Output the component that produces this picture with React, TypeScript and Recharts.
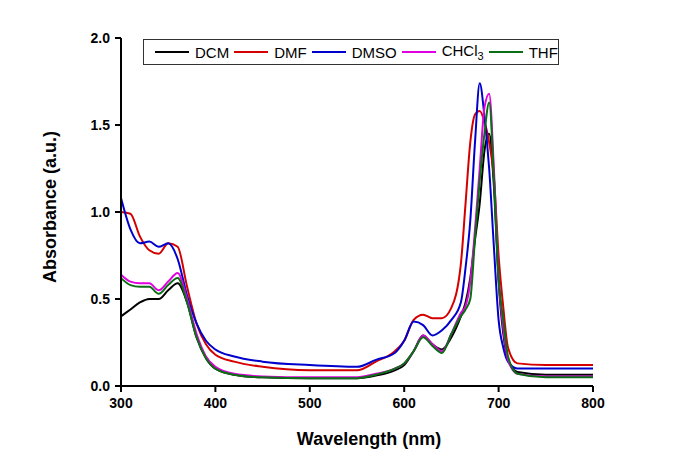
import { LineChart, Line, XAxis, YAxis, Legend } from 'recharts';

const wavelength = [
  300, 310, 320, 330, 340, 350, 360, 370, 380, 390, 400, 420, 450, 500, 550, 570, 590, 600, 610, 620,
  630, 640, 650, 660, 665, 670, 675, 680, 685, 690, 695, 700, 705, 710, 720, 750, 800,
];

const dcm = [
  0.4, 0.44, 0.48, 0.5, 0.5, 0.55, 0.59, 0.48, 0.28, 0.16, 0.1, 0.065, 0.05, 0.045, 0.045, 0.06, 0.09, 0.12, 0.2, 0.29,
  0.24, 0.21, 0.28, 0.4, 0.48, 0.62, 0.84, 1.05, 1.35, 1.45, 1.15, 0.6, 0.3, 0.15, 0.08, 0.065, 0.065,
];

const dmf = [
  1.0, 0.99, 0.86, 0.78, 0.76, 0.82, 0.8, 0.57, 0.36, 0.24, 0.18, 0.14, 0.11, 0.09, 0.09, 0.14, 0.2, 0.26, 0.38, 0.41,
  0.39, 0.39, 0.45, 0.7, 1.05, 1.4, 1.56, 1.58, 1.52, 1.4, 1.2, 0.75, 0.45, 0.22, 0.13, 0.12, 0.12,
];

const dmso = [
  1.08, 0.9, 0.82, 0.83, 0.8, 0.82, 0.73, 0.52, 0.36, 0.26, 0.21, 0.17, 0.14, 0.12, 0.11, 0.15, 0.19, 0.26, 0.37, 0.35,
  0.29, 0.32, 0.38, 0.48, 0.68, 0.95, 1.4, 1.74, 1.55, 1.25, 0.8, 0.38, 0.22, 0.14, 0.1, 0.1, 0.1,
];

const chcl3 = [
  0.64, 0.6, 0.59, 0.59, 0.55, 0.6, 0.65, 0.5, 0.3, 0.17, 0.11, 0.07, 0.055, 0.05, 0.05, 0.07, 0.1, 0.13, 0.2, 0.29,
  0.24, 0.2, 0.3, 0.42, 0.46, 0.6, 0.9, 1.25, 1.6, 1.68, 1.25, 0.62, 0.33, 0.15, 0.07, 0.055, 0.055,
];

const thf = [
  0.62, 0.58, 0.57, 0.57, 0.53, 0.58, 0.62, 0.48, 0.28, 0.16, 0.1, 0.065, 0.05, 0.045, 0.045, 0.065, 0.1, 0.13, 0.2, 0.28,
  0.23, 0.19, 0.3, 0.4, 0.44, 0.5, 0.85, 1.18, 1.45, 1.63, 1.2, 0.62, 0.38, 0.17, 0.07, 0.05, 0.05,
];

const xTicks = [300, 400, 500, 600, 700, 800];
const yTicks = [0, 0.5, 1.0, 1.5, 2.0];

const data = wavelength.map((w, i) => ({
  w,
  DCM: dcm[i],
  DMF: dmf[i],
  DMSO: dmso[i],
  CHCl3: chcl3[i],
  THF: thf[i],
}));

const SERIES = [
  { key: 'DCM', color: '#000000' },
  { key: 'DMF', color: '#d40000' },
  { key: 'DMSO', color: '#0000cc' },
  { key: 'CHCl3', color: '#e000e0' },
  { key: 'THF', color: '#0a6e14' },
];

const FONT = '"Liberation Sans", Arial, sans-serif';

function LegendBox() {
  return (
    <div
      style={{
        display: 'flex',
        alignItems: 'center',
        height: 26,
        border: '1px solid #333',
        paddingLeft: 11,
        fontFamily: FONT,
        fontSize: 15,
        color: '#000',
        boxSizing: 'border-box',
      }}
    >
      {SERIES.map((s) => (
        <div key={s.key} style={{ display: 'flex', alignItems: 'center', marginRight: 5 }}>
          <svg width={34} height={4} style={{ marginRight: 6 }}>
            <line x1={0} y1={2} x2={34} y2={2} stroke={s.color} strokeWidth={2} />
          </svg>
          {s.key === 'CHCl3' ? (
            <span>
              CHCl<sub style={{ fontSize: 11, verticalAlign: -4 }}>3</sub>
            </span>
          ) : (
            <span>{s.key}</span>
          )}
        </div>
      ))}
    </div>
  );
}

export default function App() {
  return (
    <div style={{ position: 'absolute', left: 0, top: 0, background: '#fff' }}>
      <LineChart
        width={685}
        height={467}
        data={data}
        margin={{ top: 38, right: 92, bottom: 0, left: 0 }}
      >
        <XAxis
          dataKey="w"
          type="number"
          domain={[300, 800]}
          ticks={xTicks}
          height={81}
          axisLine={{ stroke: '#000', strokeWidth: 2 }}
          tickLine={{ stroke: '#000', strokeWidth: 2 }}
          tickSize={6}
          tickMargin={6}
          tick={{ fill: '#000', fontSize: 14, fontWeight: 'bold', fontFamily: FONT }}
          label={() => (
            <text
              x={369}
              y={445}
              textAnchor="middle"
              fontFamily={FONT}
              fontSize={18}
              fontWeight="bold"
              fill="#000"
            >
              Wavelength (nm)
            </text>
          )}
        />
        <YAxis
          type="number"
          domain={[0, 2]}
          ticks={yTicks}
          width={121}
          axisLine={{ stroke: '#000', strokeWidth: 2 }}
          tickLine={{ stroke: '#000', strokeWidth: 2 }}
          tickSize={6}
          tickMargin={5}
          tickFormatter={(v: number) => v.toFixed(1)}
          tick={{ fill: '#000', fontSize: 14, fontWeight: 'bold', fontFamily: FONT }}
          label={() => (
            <text
              x={50}
              y={207}
              transform="rotate(-90, 50, 207)"
              textAnchor="middle"
              dominantBaseline="central"
              fontFamily={FONT}
              fontSize={18}
              fontWeight="bold"
              fill="#000"
            >
              Absorbance (a.u.)
            </text>
          )}
        />
        <Legend
          layout="horizontal"
          verticalAlign="middle"
          align="center"
          wrapperStyle={{ left: 143, top: 39, width: 416, height: 26 }}
          content={() => <LegendBox />}
        />
        {SERIES.map((s) => (
          <Line
            key={s.key}
            type="monotone"
            dataKey={s.key}
            stroke={s.color}
            strokeWidth={2}
            dot={false}
            isAnimationActive={false}
          />
        ))}
      </LineChart>
    </div>
  );
}
